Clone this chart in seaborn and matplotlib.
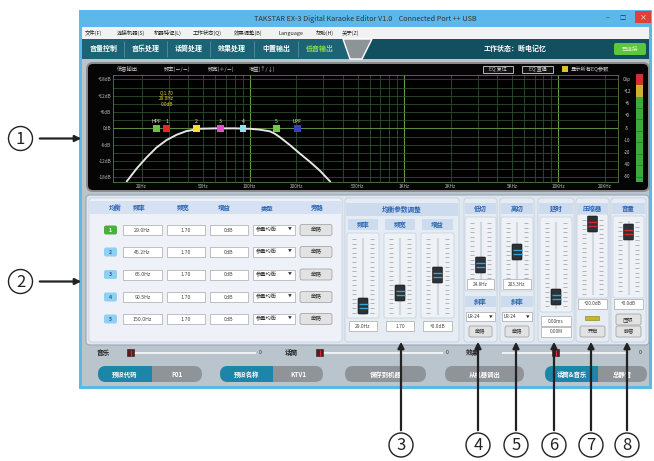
import matplotlib
matplotlib.use('Agg')
import matplotlib.pyplot as plt
from matplotlib.patches import FancyBboxPatch, Circle, Polygon
import numpy as np
import pandas as pd
import seaborn as sns

# ---- data ----
curve_freq = [16.0, 18.6, 21.5, 25.0, 29.0, 33.7, 39.0, 47.6, 60.0, 80.0, 100.0,
              115.0, 126.0, 135.5, 146.0, 157.5, 182.0, 211.0, 246.0, 286.0, 332.0]
curve_db = [-19.5, -14.7, -10.7, -7.0, -4.3, -2.35, -1.0, -0.15, 0.0, 0.0, -0.15,
            -0.45, -0.8, -1.1, -2.0, -3.3, -6.1, -9.2, -12.3, -15.6, -19.5]

band_names = ['HPF', '1', '2', '3', '4', '5', 'LPF']
band_freq = [24.8, 29.0, 45.2, 65.0, 90.5, 150.0, 203.3]
band_gain = [0, 0, 0, 0, 0, 0, 0]
band_colors = ['#6cc242', '#e8262a', '#f2e132', '#e04fc8', '#8fe3ec', '#74c940', '#3a3fc0']

x_ticks = [20, 50, 100, 200, 500, 1000, 2000, 5000, 10000, 20000]
x_tick_labels = ['20Hz', '50Hz', '100Hz', '200Hz', '500Hz', '1KHz', '2KHz', '5KHz', '10KHz', '20KHz']
y_ticks = [18, 12, 6, 0, -6, -12, -18]
y_tick_labels = ['+18dB', '+12dB', '+6dB', '0dB', '-6dB', '-12dB', '-18dB']
meter_labels = ['Clip', '+12', '+6', '+0', '-5', '-10', '-20', '-40', '-60']

menu_items = ['文件(F)', '连接机器(S)', '机器特征(L)', '工作状态(Q)', '效果调整(B)', 'Language', '帮助(H)', '关于(Z)']
tabs = ['音量控制', '音乐处理', '话筒处理', '效果处理', '中置输出', '低音输出']

table_head = ['均衡', '频率', '频宽', '增益', '类型', '旁路']
eq_freq = ['29.0Hz', '45.2Hz', '65.0Hz', '90.5Hz', '150.0Hz']
eq_q = ['1.70', '1.70', '1.70', '1.70', '1.70']
eq_gain = ['0dB', '0dB', '0dB', '0dB', '0dB']
eq_type = ['参量均衡'] * 5

slider_heads = ['频率', '频宽', '增益']
slider_vals = ['29.0Hz', '1.70', '+0.0dB']
cut_heads = ['低切', '高切']
cut_vals = ['24.8Hz', '203.3Hz']
cut_slope = ['LR-24', 'LR-24']
delay_vals = ['0.00ms', '0.00M']
comp_val = '+20.0dB'
vol_val = '+0.0dB'

bottom_sliders = ['音乐', '话筒', '效果']
callouts = ['3', '4', '5', '6', '7', '8']

sns.set_style('white')
plt.rcParams['font.family'] = ['Noto Sans CJK SC', 'DejaVu Sans']

W, H = 654, 461
fig = plt.figure(figsize=(6.54, 4.61), dpi=100)
base = fig.add_axes([0, 0, 1, 1])
base.set_xlim(0, W)
base.set_ylim(H, 0)
base.axis('off')


def box(x0, y0, x1, y1, fc, ec='none', lw=0.6, r=0, z=1):
    style = 'round,pad=0,rounding_size=%s' % r if r else 'square,pad=0'
    base.add_patch(FancyBboxPatch((x0, y0), x1 - x0, y1 - y0, boxstyle=style,
                                  fc=fc, ec=ec, lw=lw, zorder=z))


def txt(x, y, s, size=4.5, color='#222222', ha='center', weight='normal', z=6):
    base.text(x, y, s, fontsize=size, color=color, ha=ha, va='center',
              fontweight=weight, zorder=z)


def slider(x0, x1, y0, y1, thumb_y, stripe='#3aa0d8'):
    box(x0, y0, x1, y1, '#eef2f7', '#c3cdd9', 0.5, r=2, z=2)
    xc = (x0 + x1) / 2
    ys = np.arange(y0 + 6, y1 - 3, 4.6)
    base.hlines(ys, x0 + 5, x0 + 9, color='#9a9a9a', lw=0.5, zorder=3)
    base.hlines(ys, x1 - 9, x1 - 5, color='#9a9a9a', lw=0.5, zorder=3)
    base.vlines(xc, y0 + 5, y1 - 3, color='#d2d8e0', lw=1.5, zorder=3)
    box(xc - 5, thumb_y - 8, xc + 5, thumb_y + 8, '#2c3236', '#111111', 0.4, r=1, z=4)
    base.hlines([thumb_y - 2, thumb_y + 1.5], xc - 4.5, xc + 4.5, color=stripe, lw=1, zorder=5)


def entry(x0, x1, y, s, size=3.8):
    box(x0, y - 5, x1, y + 5, 'white', '#a8a8a8', 0.5, z=3)
    txt((x0 + x1) / 2, y, s, size, '#444444')


def button(x0, x1, y, s, size=4):
    box(x0, y - 5.5, x1, y + 5.5, '#e2e2e2', '#9a9a9a', 0.5, r=2, z=3)
    txt((x0 + x1) / 2, y, s, size, '#333333')


def header(x0, x1, y0, y1, s, size=4.8):
    box(x0, y0, x1, y1, '#cddbef', 'none', z=3)
    txt((x0 + x1) / 2, (y0 + y1) / 2, s, size, '#2a62b0', weight='bold')


# ---- window frame ----
box(79, 10, 652, 389, '#5bb8e8')
txt(365, 19, 'TAKSTAR EX-3 Digital Karaoke Editor V1.0    Connected Port ++ USB', 5.2, '#333333')
txt(608, 18, '–', 5, '#333333')
txt(623, 18, '□', 4.5, '#333333')
box(635, 11, 651, 23, '#e0403a')
txt(643, 17, '×', 5, 'white')

# menu
box(82, 27, 649, 39, '#f2f2f2')
for s, x in zip(menu_items, [93, 131, 168, 207, 248, 291, 325, 350]):
    txt(x, 33, s, 3.9, '#222222')

# tab bar
box(82, 39, 649, 59, '#12505f')
box(82, 39, 350, 59, '#1d6376')
for i, (s, x) in enumerate(zip(tabs, [104, 146, 189, 232, 276, 320])):
    col = '#8be04a' if i == len(tabs) - 1 else 'white'
    txt(x, 48.5, s, 5, col, weight='bold')
    if i > 0:
        base.vlines(x - 22, 41, 57, color='#5a8e9c', lw=0.6, zorder=3)
base.add_patch(Polygon([[343, 39], [372, 39], [362, 59], [350, 59]], closed=True, fc='#8c9498', zorder=2))
txt(515, 48.5, '工作状态：断电记忆', 5, 'white', weight='bold')
box(614, 43, 646, 55, '#5cc63c', r=2, z=3)
txt(630, 49, '已连接', 4, '#dff5d0')

# window body
box(82, 59, 649, 386, '#b9c4cc')

# ---- graph panel ----
box(87, 63, 649, 191, '#050505', '#8c8c8c', 1.4, r=6, z=2)
for s, x in zip(['低音输出', '频率(－/－)', '频宽(＋/－)', '增益(↑/↓)'], [127, 177, 221, 262]):
    txt(x, 69.5, s, 3.8, '#d0d0d0')
for s, x0, x1 in [('EQ 复位', 483, 513), ('EQ 直通', 522, 553)]:
    box(x0, 66, x1, 73.5, '#111111', '#cfcfcf', 0.6, z=3)
    txt((x0 + x1) / 2, 69.8, s, 3.6, '#d0d0d0')
box(562, 66.5, 568, 72.5, '#e0c030', z=3)
txt(571, 69.6, '显示所有EQ参数', 3.8, '#d0d0d0', ha='left')

# level meter
meter_y = np.linspace(79.3, 176.7, len(meter_labels))
for s, y in zip(meter_labels, meter_y):
    txt(627, y, s, 3.2, '#cfcfcf')
box(635.5, 74, 642.5, 85, '#d03030', z=3)
box(635.5, 85, 642.5, 97, '#d0b030', z=3)
box(635.5, 97, 642.5, 182, '#3ea83e', z=3)
base.hlines(np.arange(108, 182, 11.5), 635.5, 642.5, color='#1e6a1e', lw=0.4, zorder=4)

# ---- EQ curve axes ----
ax = fig.add_axes([113.3 / W, (H - 181.7) / H, 504.4 / W, 106.7 / H])
ax.set_facecolor('black')
ax.set_xscale('log')
grid_f = [m * 10 ** d for d in range(1, 5) for m in range(1, 10) if 13 < m * 10 ** d < 24000]
for f in grid_f:
    bright = f in (100, 1000, 10000)
    ax.axvline(f, color='#6a9a42' if bright else '#30562f', lw=0.8 if bright else 0.55, zorder=1)
for d in range(-18, 19, 3):
    ax.axhline(d, color='#5a8a42' if d == 0 else '#30562f', lw=0.8 if d == 0 else 0.55, zorder=1)

sns.lineplot(x=curve_freq, y=curve_db, ax=ax, color='#e4e4e4', lw=1.4, sort=False, zorder=4)
bands = pd.DataFrame({'name': band_names, 'freq': band_freq, 'gain': band_gain})
sns.scatterplot(data=bands, x='freq', y='gain', hue='name', palette=band_colors, marker='s',
                s=24, linewidth=0, legend=False, ax=ax, zorder=5)
for n, f, g in zip(band_names, band_freq, band_gain):
    ax.text(f, g + 2.6, n, fontsize=3.8, color='#e8e6c8', ha='center', va='center', zorder=6)
ax.text(band_freq[1], 11.0, 'Q:%s\n%s\n%s' % (eq_q[0], eq_freq[0], '0.0dB'), fontsize=3.4,
        color='#e6d23c', ha='center', va='center', linespacing=1.2, zorder=6)

ax.set_xlim(13.1, 24200)
ax.set_ylim(-19.6, 19.6)
ax.set_xticks(x_ticks, x_tick_labels)
ax.xaxis.set_minor_locator(matplotlib.ticker.NullLocator())
ax.set_yticks(y_ticks, y_tick_labels)
ax.tick_params(colors='#bdbdbd', labelsize=3.3, length=0, pad=1.5)
ax.set_xlabel('')
ax.set_ylabel('')
for sp in ax.spines.values():
    sp.set_color('#5a7a4a')
    sp.set_linewidth(0.6)

# ---- lower panel: EQ table ----
box(86, 195, 649, 345, '#dfe7f1', '#9aa8b8', 0.8, r=4, z=1)
box(89, 198, 342, 342, '#eef2f8', '#c0cad6', 0.5, r=3, z=2)
box(90, 201, 341, 214, '#d6e2f2', z=2)
for s, x in zip(table_head, [115, 139, 183, 224, 267, 317]):
    txt(x, 207.5, s, 4.6, '#2a62b0', weight='bold')
row_y = [230, 252, 274.5, 297, 319]
for i, y in enumerate(row_y):
    fc = '#4caf3c' if i == 0 else '#8fd0f0'
    box(104, y - 4.5, 117, y + 4.5, fc, 'none', r=2, z=3)
    txt(110.5, y, str(i + 1), 3.8, 'white' if i == 0 else '#2a62b0', weight='bold')
    entry(123, 162, y, eq_freq[i])
    entry(167, 205, y, eq_q[i])
    entry(210, 248, y, eq_gain[i])
    box(253, y - 5, 295, y + 5, 'white', '#a8a8a8', 0.5, z=3)
    txt(256, y, eq_type[i], 3.8, '#333333', ha='left')
    txt(290, y, '▼', 2.8, '#333333')
    button(300, 332, y, '旁路')

# EQ parameter sliders
box(345, 198, 459, 342, '#e6ecf4', '#c0cad6', 0.5, r=3, z=1.5)
header(346, 458, 203, 216, '均衡参数调整')
for s, v, x0, x1, ty in zip(slider_heads, slider_vals, [347, 384, 421], [379, 416, 454], [306, 293, 275]):
    header(x0 + 1, x1 - 1, 219, 230, s, 4.6)
    slider(x0, x1, 233, 318, ty)
    entry(x0 + 2, x1 - 2, 326, v, 3.5)

# low / high cut
for s, v, sl, x0, x1, ty in zip(cut_heads, cut_vals, cut_slope, [464, 500], [497, 534], [265, 252]):
    box(x0, 198, x1, 342, '#e6ecf4', '#c0cad6', 0.5, r=3, z=1.5)
    header(x0 + 1, x1 - 1, 203, 214, s, 4.6)
    slider(x0 + 1, x1 - 1, 217, 291, ty)
    entry(x0 + 3, x1 - 3, 284, v, 3.4)
    header(x0 + 1, x1 - 1, 296, 307, '斜率', 4.6)
    box(x0 + 2, 312, x1 - 2, 321, 'white', '#a8a8a8', 0.5, z=3)
    txt(x0 + 4, 316.5, sl, 3.4, '#333333', ha='left')
    txt(x1 - 6, 316.5, '▼', 2.6, '#333333')
    button(x0 + 5, x1 - 5, 331.5, '旁路', 3.8)

# delay
box(538, 198, 574, 342, '#e6ecf4', '#c0cad6', 0.5, r=3, z=1.5)
header(539, 573, 203, 214, '延时', 4.6)
slider(540, 572, 217, 312, 297)
entry(541, 571, 321, delay_vals[0], 3.4)
entry(541, 571, 331.5, delay_vals[1], 3.4)

# compressor
box(576, 198, 609, 342, '#e6ecf4', '#c0cad6', 0.5, r=3, z=1.5)
header(577, 608, 203, 214, '压缩器', 4.6)
slider(577, 608, 214, 298, 224, stripe='#d02a2a')
entry(578, 607, 303.5, comp_val, 3.4)
box(585, 315.5, 599, 320, '#c8b428', '#8a7a18', 0.4, z=3)
button(580, 605, 331.5, '开启', 3.8)

# volume
box(611, 198, 646, 342, '#e6ecf4', '#c0cad6', 0.5, r=3, z=1.5)
header(612, 645, 203, 214, '音量', 4.6)
slider(613, 644, 216, 298, 232, stripe='#d02a2a')
entry(614, 643, 303.5, vol_val, 3.4)
button(616, 641, 319.5, '压限', 3.8)
button(616, 641, 331.5, '静音', 3.8)

# ---- bottom bar ----
for s, lx, t0, t1, th, zx in zip(bottom_sliders, [103, 291, 472], [131, 320, 502], [256, 443, 628],
                                 [127, 316, 552], [260, 447, 640]):
    txt(lx, 352.5, s, 4.8, '#222222', weight='bold')
    base.hlines(352.5, t0, t1, color='#f4f6f8', lw=1.3, zorder=3)
    box(th, 349, th + 7, 356, '#5a1c1c', '#1e1e1e', 0.4, z=4)
    base.vlines(th + 4, 349.5, 355.5, color='#d83030', lw=0.8, zorder=5)
    txt(zx, 352.5, '0', 3.8, '#333333')


def pill(x0, xm, x1, left, right):
    box(x0, 366, x1, 382, '#8f9499', 'none', r=8, z=3)
    if left:
        box(x0, 366, xm + 8, 382, '#1b86a8', 'none', r=8, z=3.5)
        box(xm, 366, xm + 8, 382, '#8f9499', z=3.6)
        txt((x0 + xm) / 2, 374, left, 4.6, 'white', weight='bold')
        txt((xm + x1) / 2, 374, right, 4.6, 'white', weight='bold')
    else:
        txt((x0 + x1) / 2, 374, right, 4.6, 'white', weight='bold')


pill(98, 152, 202, '预设代码', 'F01')
pill(220, 273, 323, '预设名称', 'KTV1')
pill(345, None, 426, None, '保存到机器')
pill(445, None, 524, None, '从机器调出')
pill(545, 598, 647, '话筒&音乐', '总静音')

# ---- callouts ----
for n, y in [('1', 138.5), ('2', 281.5)]:
    base.add_patch(Circle((20.5, y), 12, fc='white', ec='#222222', lw=1.0, zorder=7))
    base.text(20.5, y + 0.5, n, fontsize=12, color='#222222', ha='center', va='center', zorder=8)
    base.annotate('', xy=(84, y), xytext=(37, y),
                  arrowprops=dict(arrowstyle='-|>', color='#222222', lw=1.6, mutation_scale=9), zorder=8)
for n, x in zip(callouts, [401, 478, 516, 554, 591, 627]):
    base.add_patch(Circle((x, 445), 12, fc='white', ec='#222222', lw=1.0, zorder=7))
    base.text(x, 445.5, n, fontsize=12, color='#222222', ha='center', va='center', zorder=8)
    base.annotate('', xy=(x, 339), xytext=(x, 433),
                  arrowprops=dict(arrowstyle='-|>', color='#222222', lw=1.6, mutation_scale=9), zorder=8)

fig.savefig('out.png', dpi=100)
